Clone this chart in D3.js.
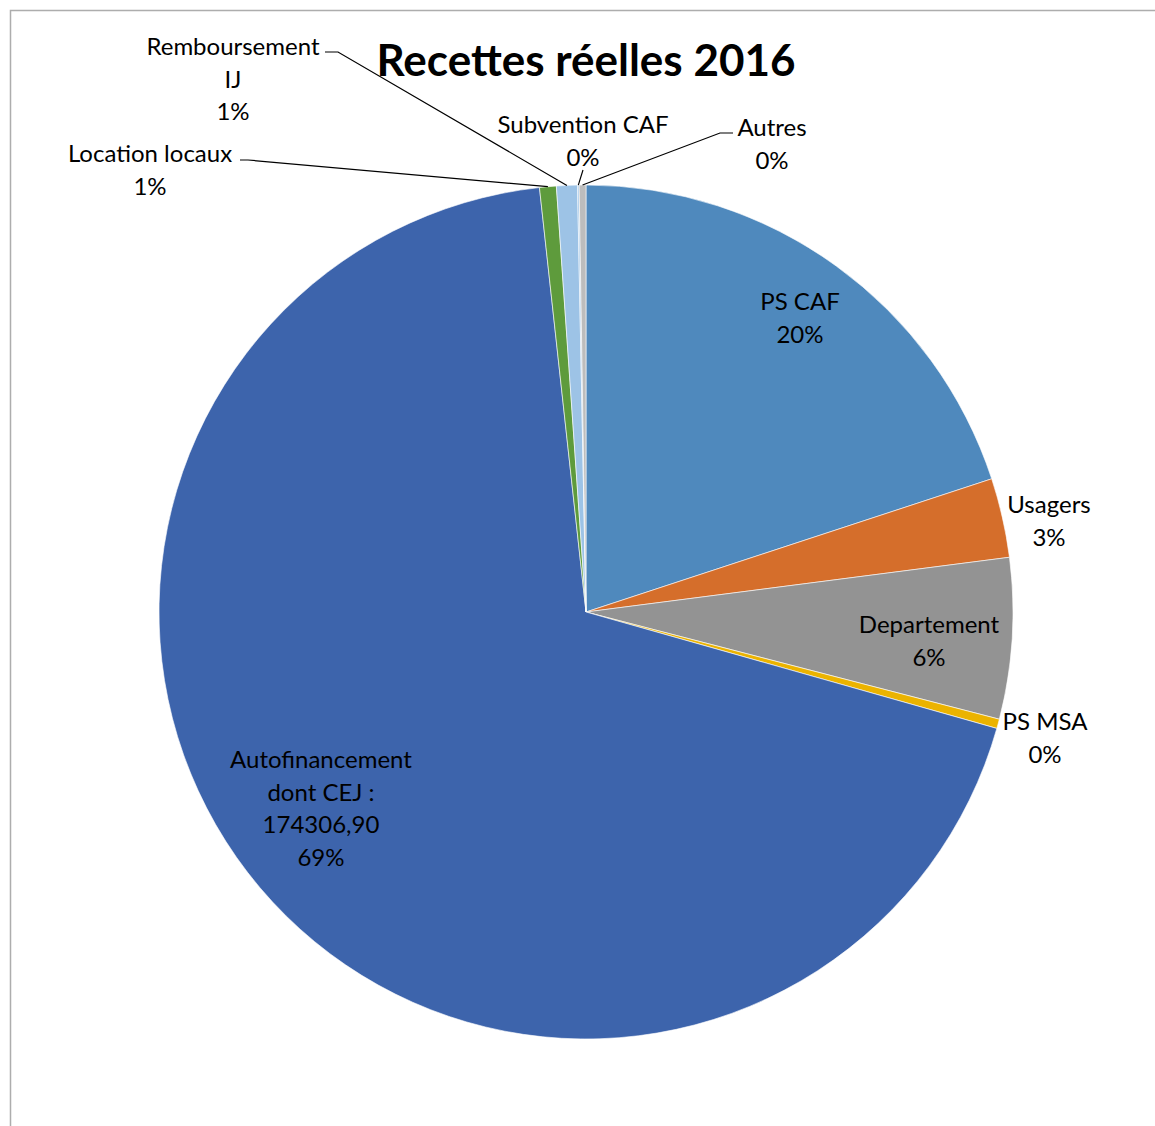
<!DOCTYPE html>
<html>
<head>
<meta charset="utf-8">
<script src="https://cdn.jsdelivr.net/npm/d3@7"></script>
<style>
  body { margin: 0; background: #fff; }
  text { font-family: Lato, "Open Sans", sans-serif; fill: #000; }
</style>
</head>
<body>
<div id="chart"></div>
<script>
// slice data, clockwise from 12 o'clock
var categories = ["PS CAF", "Usagers", "Departement", "PS MSA",
  "Autofinancement dont CEJ : 174306,90", "Location locaux",
  "Remboursement IJ", "Subvention CAF", "Autres"];
var amounts = [50500, 7600, 15400, 900, 174306.90, 1600, 2000, 150, 650];
var colors = ["#4F89BD", "#D56E2B", "#939393", "#EBB300", "#3D64AC",
  "#5E9B3C", "#9DC3E6", "#9DC3E6", "#BDBDBD"];
// label lines as shown (name lines, then the percent is added)
var labelLines = [["PS CAF"], ["Usagers"], ["Departement"], ["PS MSA"],
  ["Autofinancement", "dont CEJ :", "174306,90"], ["Location locaux"],
  ["Remboursement", "IJ"], ["Subvention CAF"], ["Autres"]];

var W = 1155, H = 1126;
var cx = 586, cy = 612, R = 427;

// where each label block sits (center x, first line middle y)
var labelPos = [[800, 302], [1049, 505], [929, 625], [1045, 722],
  [321, 760], [150, 154], [233, 47], [583, 125], [772, 128]];
// leader start point near the text (null = no leader)
var leaderFrom = [null, null, null, null, null,
  [[240, 160], [248, 160]], [[325, 52], [338, 52]], [[583, 170]], [[733, 133], [720, 133]]];

var svg = d3.select("#chart").append("svg")
  .attr("width", W).attr("height", H);

// chart frame
svg.append("path")
  .attr("d", "M10.5," + H + " L10.5,10.5 L" + W + ",10.5")
  .attr("fill", "none").attr("stroke", "#ADADAD").attr("stroke-width", 1.5);

svg.append("text")
  .attr("x", 586).attr("y", 76)
  .attr("text-anchor", "middle")
  .style("font-size", "44px").style("font-weight", "bold")
  .text("Recettes réelles 2016");

var total = d3.sum(amounts);
var pie = d3.pie().sort(null).value(function(d) { return d; });
var arcs = pie(amounts);
var arc = d3.arc().innerRadius(0).outerRadius(R);

var g = svg.append("g").attr("transform", "translate(" + cx + "," + cy + ")");
g.selectAll("path.slice")
  .data(arcs)
  .enter().append("path")
  .attr("class", "slice")
  .attr("d", arc)
  .attr("fill", function(d, i) { return colors[i]; })
  .attr("stroke", "#fff")
  .attr("stroke-width", 0.6);

// leader lines
arcs.forEach(function(d, i) {
  if (!leaderFrom[i]) return;
  var a = (d.startAngle + d.endAngle) / 2;
  var px = cx + R * Math.sin(a), py = cy - R * Math.cos(a);
  var pts = leaderFrom[i].concat([[px, py]]);
  svg.append("path")
    .attr("d", d3.line()(pts))
    .attr("fill", "none").attr("stroke", "#000").attr("stroke-width", 1.2);
});

// labels
var lineH = 32.5;
arcs.forEach(function(d, i) {
  var lines = labelLines[i].concat([Math.round(amounts[i] / total * 100) + "%"]);
  var t = svg.append("text")
    .attr("text-anchor", "middle")
    .style("font-size", "24px");
  lines.forEach(function(s, k) {
    t.append("tspan")
      .attr("x", labelPos[i][0])
      .attr("y", labelPos[i][1] + k * lineH)
      .attr("dy", "0.35em")
      .text(s);
  });
});
</script>
</body>
</html>
